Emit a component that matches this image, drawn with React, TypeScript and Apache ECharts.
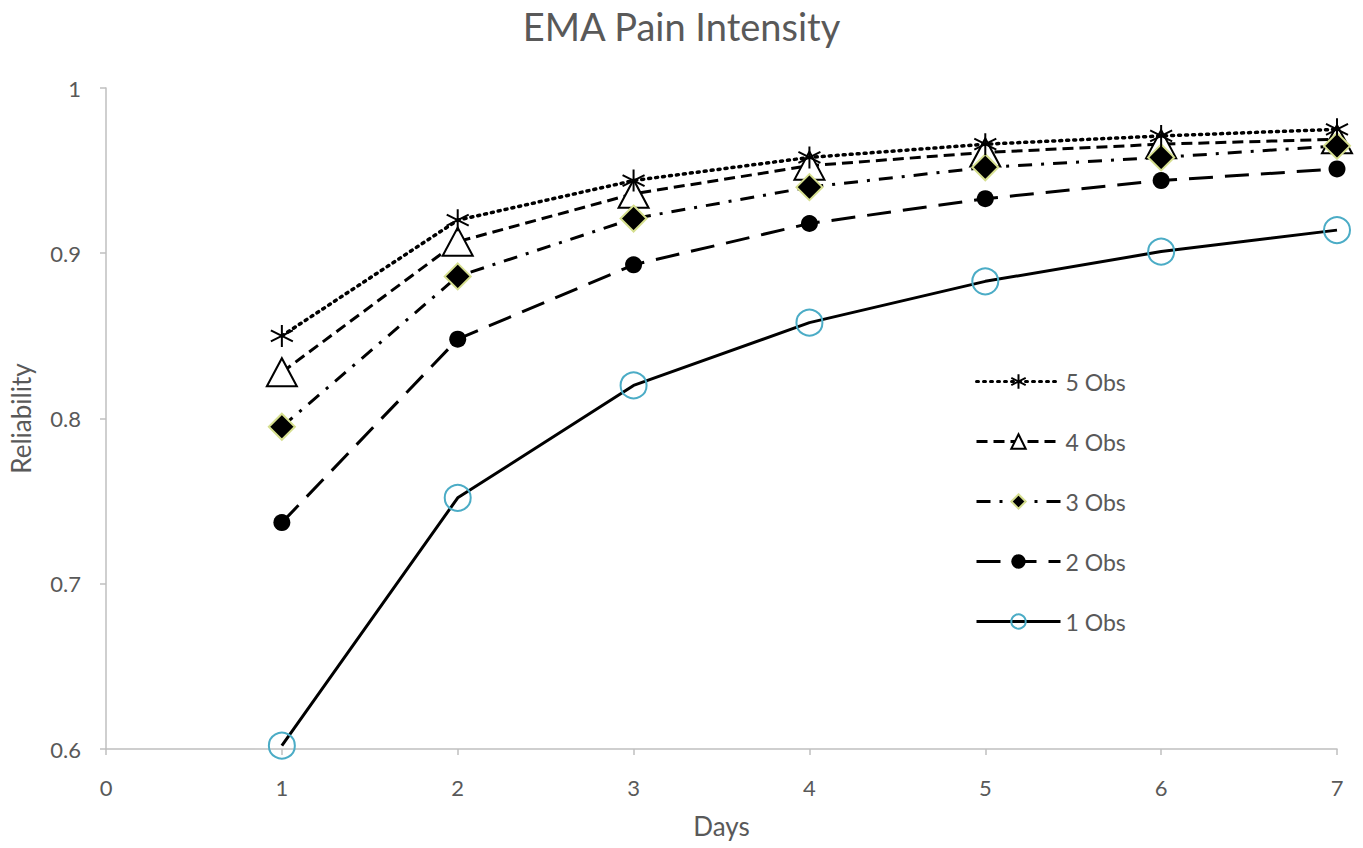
import React, { useEffect, useRef } from "react";
import * as echarts from "echarts";

const days = [1, 2, 3, 4, 5, 6, 7];
const obs1 = [0.602, 0.752, 0.82, 0.858, 0.883, 0.901, 0.914];
const obs2 = [0.737, 0.848, 0.893, 0.918, 0.933, 0.944, 0.951];
const obs3 = [0.795, 0.886, 0.921, 0.94, 0.952, 0.958, 0.965];
const obs4 = [0.828, 0.907, 0.936, 0.953, 0.961, 0.966, 0.969];
const obs5 = [0.85, 0.92, 0.944, 0.958, 0.966, 0.971, 0.975];
const seriesNames = ["5 Obs", "4 Obs", "3 Obs", "2 Obs", "1 Obs"];

const toPairs = (vals: number[]) => vals.map((v, i) => [days[i], v]);

const FONT = "Lato, 'Open Sans', sans-serif";
const GREY = "#595959";
const AXIS = "#bfbfbf";

export default function App() {
  const ref = useRef<HTMLDivElement>(null);
  useEffect(() => {
    document.body.style.margin = "0";
    const chart = echarts.init(ref.current!, null, { renderer: "svg" });
    const asterisk = "path://M0,-10L0,10M-8.66,-5L8.66,5M-8.66,5L8.66,-5";
    chart.setOption({
      animation: false,
      backgroundColor: "#ffffff",
      textStyle: { fontFamily: FONT },
      title: {
        text: "EMA Pain Intensity",
        left: "center",
        top: 2,
        textStyle: { fontFamily: FONT, fontSize: 38, fontWeight: "normal", color: GREY },
      },
      grid: { left: 106, right: 26, top: 88, bottom: 99 },
      legend: {
        orient: "vertical",
        left: 975,
        top: 370,
        padding: 0,
        itemWidth: 84,
        itemHeight: 18,
        itemGap: 37,
        lineStyle: { width: 3 },
        data: seriesNames,
        textStyle: { fontFamily: FONT, fontSize: 23, color: GREY },
      },
      xAxis: {
        type: "value",
        min: 0,
        max: 7,
        interval: 1,
        name: "Days",
        nameLocation: "middle",
        nameGap: 64,
        nameTextStyle: { fontFamily: FONT, fontSize: 26, color: GREY },
        axisLine: { show: true, lineStyle: { color: AXIS, width: 1.5 } },
        axisTick: { show: true, length: 6, lineStyle: { color: AXIS, width: 1.5 } },
        axisLabel: { fontFamily: FONT, fontSize: 22, color: GREY, margin: 27 },
        splitLine: { show: false },
      },
      yAxis: {
        type: "value",
        min: 0.6,
        max: 1,
        interval: 0.1,
        name: "Reliability",
        nameLocation: "middle",
        nameGap: 72,
        nameTextStyle: { fontFamily: FONT, fontSize: 26, color: GREY },
        axisLine: { show: true, lineStyle: { color: AXIS, width: 1.5 } },
        axisTick: { show: true, length: 6, lineStyle: { color: AXIS, width: 1.5 } },
        axisLabel: {
          fontFamily: FONT,
          fontSize: 22,
          color: GREY,
          margin: 25,
          formatter: (v: number) => String(Math.round(v * 10) / 10),
        },
        splitLine: { show: false },
      },
      series: [
        {
          name: "1 Obs",
          type: "line",
          z: 2,
          data: toPairs(obs1),
          symbol: "circle",
          symbolSize: 26,
          lineStyle: { color: "#000", width: 3, type: "solid" },
          itemStyle: { color: "none", borderColor: "#4bacc6", borderWidth: 2 },
        },
        {
          name: "2 Obs",
          type: "line",
          z: 3,
          data: toPairs(obs2),
          symbol: "circle",
          symbolSize: 17,
          lineStyle: { color: "#000", width: 3, type: [24, 12] },
          itemStyle: { color: "#000", borderColor: "#000", borderWidth: 0 },
        },
        {
          name: "4 Obs",
          type: "line",
          z: 4,
          data: toPairs(obs4),
          symbol: "triangle",
          symbolSize: [30, 28],
          lineStyle: { color: "#000", width: 3, type: [11, 6] },
          itemStyle: { color: "#ffffff", borderColor: "#000", borderWidth: 2 },
        },
        {
          name: "3 Obs",
          type: "line",
          z: 5,
          data: toPairs(obs3),
          symbol: "diamond",
          symbolSize: 26,
          lineStyle: { color: "#000", width: 3, type: [14, 9, 3, 9] },
          itemStyle: { color: "#000", borderColor: "#d6df8f", borderWidth: 2 },
        },
        {
          name: "5 Obs",
          type: "line",
          z: 6,
          data: toPairs(obs5),
          symbol: asterisk,
          symbolSize: 22,
          lineStyle: { color: "#000", width: 3.5, type: [2, 5], cap: "round" },
          itemStyle: { color: "#000", borderColor: "#000", borderWidth: 2 },
        },
      ],
    });
    return () => chart.dispose();
  }, []);
  return <div ref={ref} style={{ width: 1363, height: 848 }} />;
}
